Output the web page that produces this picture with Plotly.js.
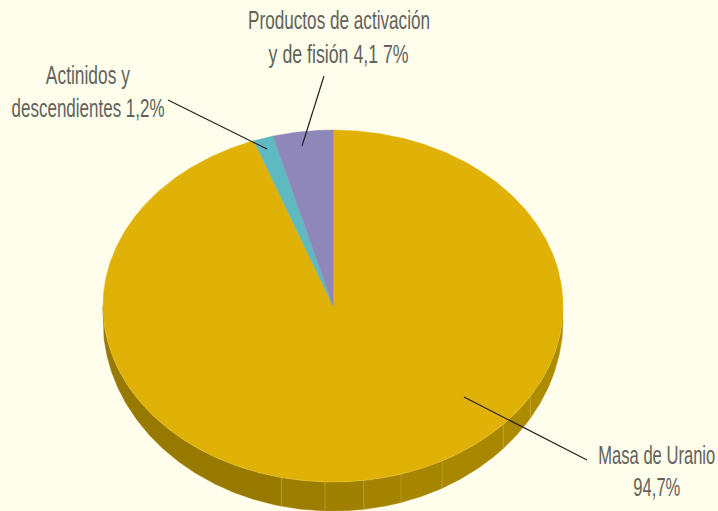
<!DOCTYPE html>
<html><head><meta charset="utf-8">
<script src="https://cdn.plot.ly/plotly-3.0.1.min.js"></script>
<style>html,body{margin:0;padding:0;background:#fffdeb}#c{width:718px;height:511px}</style>
</head><body><div id="c"></div>
<script>
// Shares as read from the drawn wedges, starting at 12 o'clock and going clockwise
const categories = ["Masa de Uranio", "Actinidos y descendientes", "Productos de activación y de fisión"];
const shares = [94.4, 1.4, 4.2];
const sliceColors = ["#e0b106", "#5fb9c0", "#8f86b9"];
const labelLines = ["Productos de activación", "y de fisión 4,1 7%", "Actinidos y", "descendientes 1,2%", "Masa de Uranio", "94,7%"];
const labelX = [339, 338, 88, 87.5, 656.5, 656.5];
const labelY = [20.5, 53.5, 75, 107.5, 455, 487];
const labelWidth = [182, 140, 84, 153, 117, 47];
const seamAngles = [90, 121, 132.3, 151.7, 162.8, 172.3, 182, 193, 270];
const sideColors = ["#ae8c00", "#ad8b00", "#a98800", "#a68500", "#a38300", "#a08000", "#9d7e00", "#977900"];
const leaders = [[168,100,267,149],[324,76,302,146],[464,397,587,460]];

const W = 718, H = 511, CX = 333, CY = 306, RX = 230, RY = 176;
const LOWER_CY = 320, LOWER_RY = 191;
const rad = d => d * Math.PI / 180;
const px = d => Math.sin(rad(d));
const py = d => Math.cos(rad(d));
const lowerY = d => (py(d) * LOWER_RY - (LOWER_CY - CY)) / RY;
function arc(a, b, yf) {
  const n = Math.max(2, Math.ceil(Math.abs(b - a) / 0.5)), xs = [], ys = [];
  for (let i = 0; i <= n; i++) { const t = a + (b - a) * i / n; xs.push(px(t)); ys.push(yf(t)); }
  return [xs, ys];
}
const traces = [];
// side facets
for (let i = 0; i < sideColors.length; i++) {
  const [x1, y1] = arc(seamAngles[i], seamAngles[i + 1], py);
  const [x2, y2] = arc(seamAngles[i + 1], seamAngles[i], lowerY);
  traces.push({type:"scatter", mode:"lines", x:x1.concat(x2), y:y1.concat(y2), fill:"toself",
    fillcolor:sideColors[i], line:{width:0.5,color:sideColors[i]}, hoverinfo:"skip", showlegend:false});
}
// seams
seamAngles.slice(1, -1).forEach(a => traces.push({type:"scatter", mode:"lines",
  x:[px(a), px(a)], y:[py(a), lowerY(a)], line:{width:0.7,color:"rgba(255,240,170,0.3)"}, hoverinfo:"skip", showlegend:false}));
// top face wedges
let acc = 0;
shares.forEach((s, i) => {
  const a = acc * 3.6, b = (acc + s) * 3.6; acc += s;
  const [x, y] = arc(a, b, py);
  traces.push({type:"scatter", mode:"lines", name:categories[i], x:[0].concat(x, [0]), y:[0].concat(y, [0]),
    fill:"toself", fillcolor:sliceColors[i], line:{width:0.4,color:sliceColors[i]}, hoverinfo:"name", showlegend:false});
});
// rim highlight
const rim = arc(95, 265, py);
traces.push({type:"scatter", mode:"lines", x:rim[0], y:rim[1], line:{width:0.6,color:"rgba(255,245,190,0.3)"}, hoverinfo:"skip", showlegend:false});

const annotations = labelLines.map((t, i) => ({text:t, xref:"paper", yref:"paper", x:labelX[i]/W, y:1-labelY[i]/H,
  xanchor:"center", yanchor:"middle", showarrow:false, font:{family:"'Liberation Sans Narrow','Liberation Sans',sans-serif", size:26, color:"#62625c"}}));
const shapes = leaders.map(l => ({type:"line", xref:"paper", yref:"paper", x0:l[0]/W, y0:1-l[1]/H, x1:l[2]/W, y1:1-l[3]/H, line:{color:"#222222", width:1.2}}));
const layout = {width:W, height:H, margin:{l:0,r:0,t:0,b:0}, paper_bgcolor:"#fffdeb", plot_bgcolor:"#fffdeb", showlegend:false,
  xaxis:{range:[-CX/RX,(W-CX)/RX], visible:false, fixedrange:true},
  yaxis:{range:[-(H-CY)/RY, CY/RY], visible:false, fixedrange:true},
  annotations, shapes};
Plotly.newPlot("c", traces, layout, {displayModeBar:false, staticPlot:true}).then(gd => {
  gd.querySelectorAll(".annotation-text").forEach(el => {
    const i = labelLines.indexOf(el.textContent);
    if (i >= 0) { el.setAttribute("textLength", labelWidth[i]); el.setAttribute("lengthAdjust", "spacingAndGlyphs"); }
  });
});
</script></body></html>
